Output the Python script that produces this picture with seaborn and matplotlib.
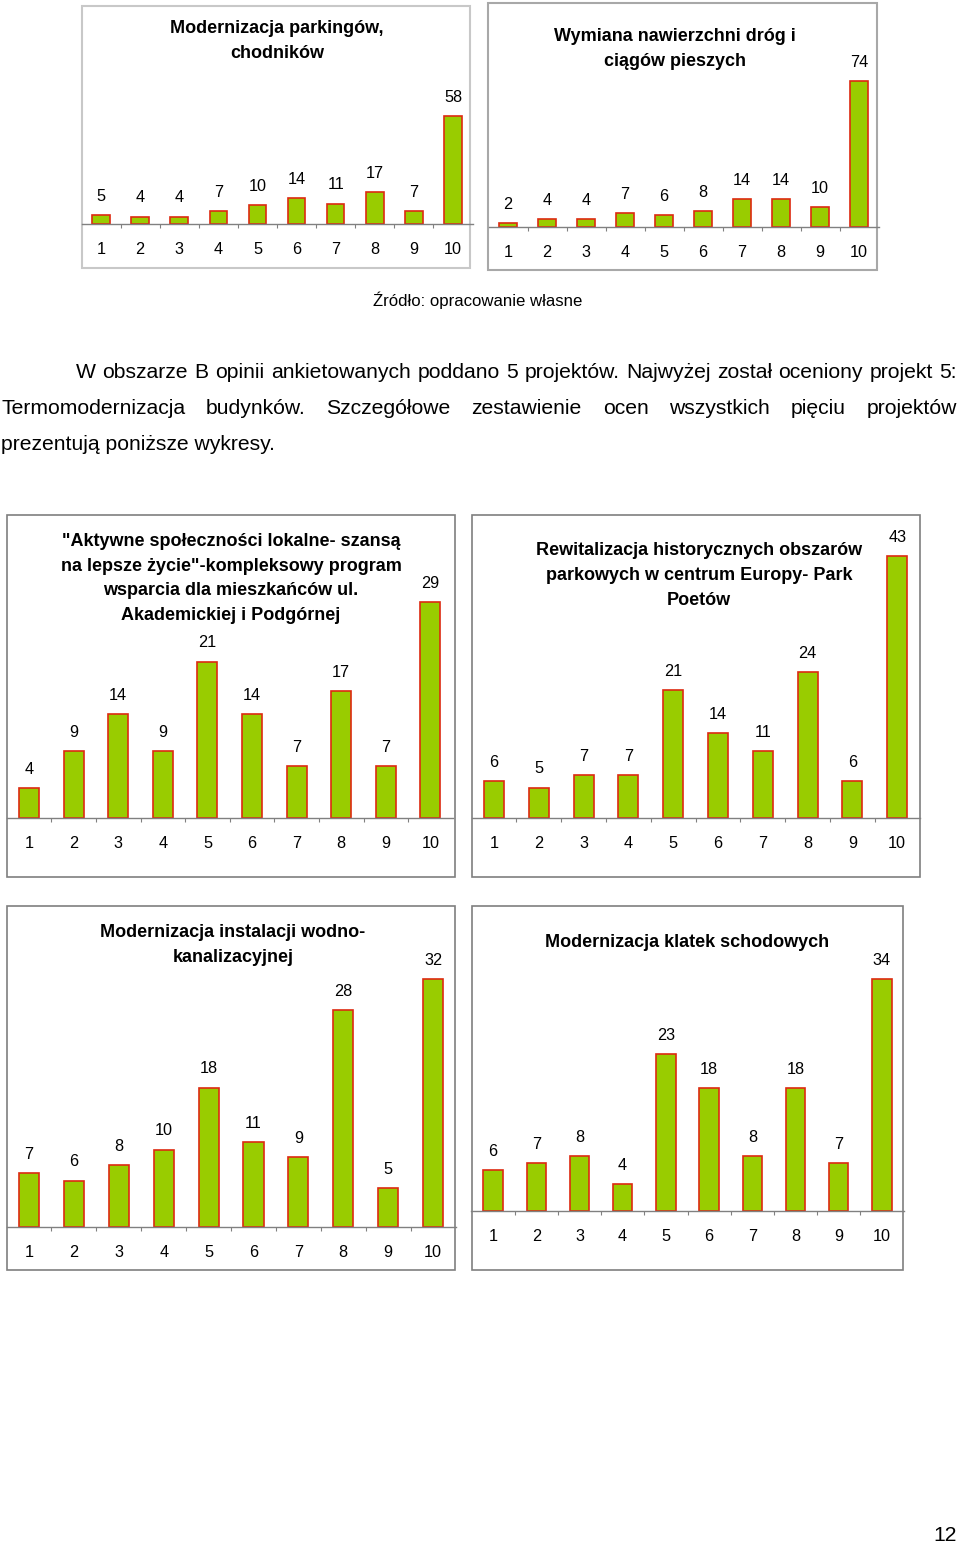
import matplotlib
matplotlib.use("Agg")
import matplotlib.pyplot as plt
from matplotlib.patches import Rectangle
from matplotlib.ticker import FixedLocator
import seaborn as sns
import pandas as pd

sns.set_style("white")
plt.rcParams['font.family'] = ['Liberation Sans', 'DejaVu Sans']

W, H = 960, 1543

# ---------------- data ----------------
categories = ["1", "2", "3", "4", "5", "6", "7", "8", "9", "10"]

vals_parkingi = [5, 4, 4, 7, 10, 14, 11, 17, 7, 58]
vals_drogi = [2, 4, 4, 7, 6, 8, 14, 14, 10, 74]
vals_aktywne = [4, 9, 14, 9, 21, 14, 7, 17, 7, 29]
vals_rewitalizacja = [6, 5, 7, 7, 21, 14, 11, 24, 6, 43]
vals_wodkan = [7, 6, 8, 10, 18, 11, 9, 28, 5, 32]
vals_klatki = [6, 7, 8, 4, 23, 18, 8, 18, 7, 34]

title_parkingi = ["Modernizacja parkingów,", "chodników"]
title_drogi = ["Wymiana nawierzchni dróg i", "ciągów pieszych"]
title_aktywne = ['"Aktywne społeczności lokalne- szansą',
                 'na lepsze życie"-kompleksowy program',
                 'wsparcia dla mieszkańców ul.',
                 'Akademickiej i Podgórnej']
title_rewitalizacja = ["Rewitalizacja historycznych obszarów",
                       "parkowych w centrum Europy- Park",
                       "Poetów"]
title_wodkan = ["Modernizacja instalacji wodno-", "kanalizacyjnej"]
title_klatki = ["Modernizacja klatek schodowych"]

source_text = "Źródło: opracowanie własne"
para_lines = [
    "W obszarze B opinii ankietowanych poddano 5 projektów. Najwyżej został oceniony projekt 5:",
    "Termomodernizacja budynków. Szczegółowe zestawienie ocen wszystkich pięciu projektów",
    "prezentują poniższe wykresy.",
]
page_number = "12"

# ---------------- layout helpers ----------------
fig = plt.figure(figsize=(W / 100, H / 100), dpi=100)
fig.patch.set_facecolor("white")
renderer = fig.canvas.get_renderer()

BAR_FACE = "#99CC00"
BAR_EDGE = "#DD2A10"
NUM_FS = 11.7
TITLE_FS = 13


def fx(x):
    return x / W


def fy(y):
    return 1 - y / H


def draw_box(x0, y0, x1, y1, color, lw):
    fig.add_artist(Rectangle((fx(x0), fy(y1)), (x1 - x0) / W, (y1 - y0) / H,
                             transform=fig.transFigure, fill=False,
                             edgecolor=color, linewidth=lw, zorder=0))


def draw_chart(values, title_lines, left, right, baseline, top, ppu,
               title_x, title_ys, box, box_color, box_lw):
    draw_box(*box, box_color, box_lw)
    ax = fig.add_axes([fx(left), fy(baseline), (right - left) / W, (baseline - top) / H])
    df = pd.DataFrame({"kat": categories, "ocena": values})
    sns.barplot(data=df, x="kat", y="ocena", ax=ax, color=BAR_FACE,
                edgecolor=BAR_EDGE, linewidth=1.2, width=0.45, saturation=1)
    ax.set_xlim(-0.5, len(categories) - 0.5)
    ax.set_ylim(0, (baseline - top) / ppu)
    ax.patch.set_alpha(0)
    for s in ["top", "left", "right"]:
        ax.spines[s].set_visible(False)
    ax.spines["bottom"].set_color("#808080")
    ax.spines["bottom"].set_linewidth(1.0)
    ax.set_xlabel("")
    ax.set_ylabel("")
    ax.set_yticks([])
    ax.xaxis.set_minor_locator(FixedLocator([i + 0.5 for i in range(len(categories) - 1)]))
    ax.tick_params(axis="x", which="major", length=0, pad=13, labelsize=NUM_FS,
                   labelcolor="black")
    ax.tick_params(axis="x", which="minor", length=3, width=0.8, color="#808080",
                   direction="out", bottom=True)
    for cont in ax.containers:
        ax.bar_label(cont, padding=8, fontsize=NUM_FS, color="black")
    for ty, line in zip(title_ys, title_lines):
        fig.text(fx(title_x), fy(ty + 6), line, ha="center", va="baseline",
                 fontsize=TITLE_FS, fontweight="bold", color="black")
    return ax


# Chart 1
draw_chart(vals_parkingi, title_parkingi, 81.5, 472.5, 224, 60, 108 / 58,
           277, [27, 52], (82, 6, 470, 268), "#C8C8C8", 1.5)
# Chart 2
draw_chart(vals_drogi, title_drogi, 488.5, 878.5, 227, 60, 146 / 74,
           675, [35, 60], (488, 3, 877, 270), "#A8A8A8", 1.5)
# Chart 3
draw_chart(vals_aktywne, title_aktywne, 6.7, 452.7, 818, 540, 216 / 29,
           231, [540, 565, 589, 614], (7, 515, 455, 877), "#7F7F7F", 1.2)
# Chart 4
draw_chart(vals_rewitalizacja, title_rewitalizacja, 471.6, 919.6, 818, 530, 262 / 43,
           699, [549, 574, 599], (472, 515, 920, 877), "#7F7F7F", 1.2)
# Chart 5
draw_chart(vals_wodkan, title_wodkan, 6.6, 455.5, 1227, 940, 248 / 32,
           233, [931, 956], (7, 906, 455, 1270), "#7F7F7F", 1.2)
# Chart 6
draw_chart(vals_klatki, title_klatki, 471.4, 903.6, 1211, 940, 232 / 34,
           687, [941], (472, 906, 903, 1270), "#7F7F7F", 1.2)


# ---------------- page text ----------------
def text_width(s, fs):
    t = fig.text(0, 0, s, fontsize=fs)
    w = t.get_window_extent(renderer).width
    t.remove()
    return w


para_fs = 10 * 274 / text_width(para_lines[2], 10)
src_fs = 10 * 209 / text_width(source_text, 10)

fig.text(fx(478), fy(306), source_text, ha="center", va="baseline",
         fontsize=src_fs, color="black")


def justified(line, x0, x1, y, fs):
    words = line.split(" ")
    texts = [fig.text(0, 0, w_, fontsize=fs, ha="left", va="baseline", color="black")
             for w_ in words]
    widths = [t.get_window_extent(renderer).width for t in texts]
    gap = (x1 - x0 - sum(widths)) / (len(words) - 1)
    x = x0
    for t, w_ in zip(texts, widths):
        t.set_position((fx(x), fy(y)))
        x += w_ + gap


justified(para_lines[0], 76, 957, 378, para_fs)
justified(para_lines[1], 1, 957, 414, para_fs)
fig.text(fx(1), fy(450), para_lines[2], ha="left", va="baseline",
         fontsize=para_fs, color="black")

fig.text(fx(957), fy(1541), page_number, ha="right", va="baseline",
         fontsize=para_fs, color="black")

fig.savefig("out.png", dpi=100, facecolor="white")
